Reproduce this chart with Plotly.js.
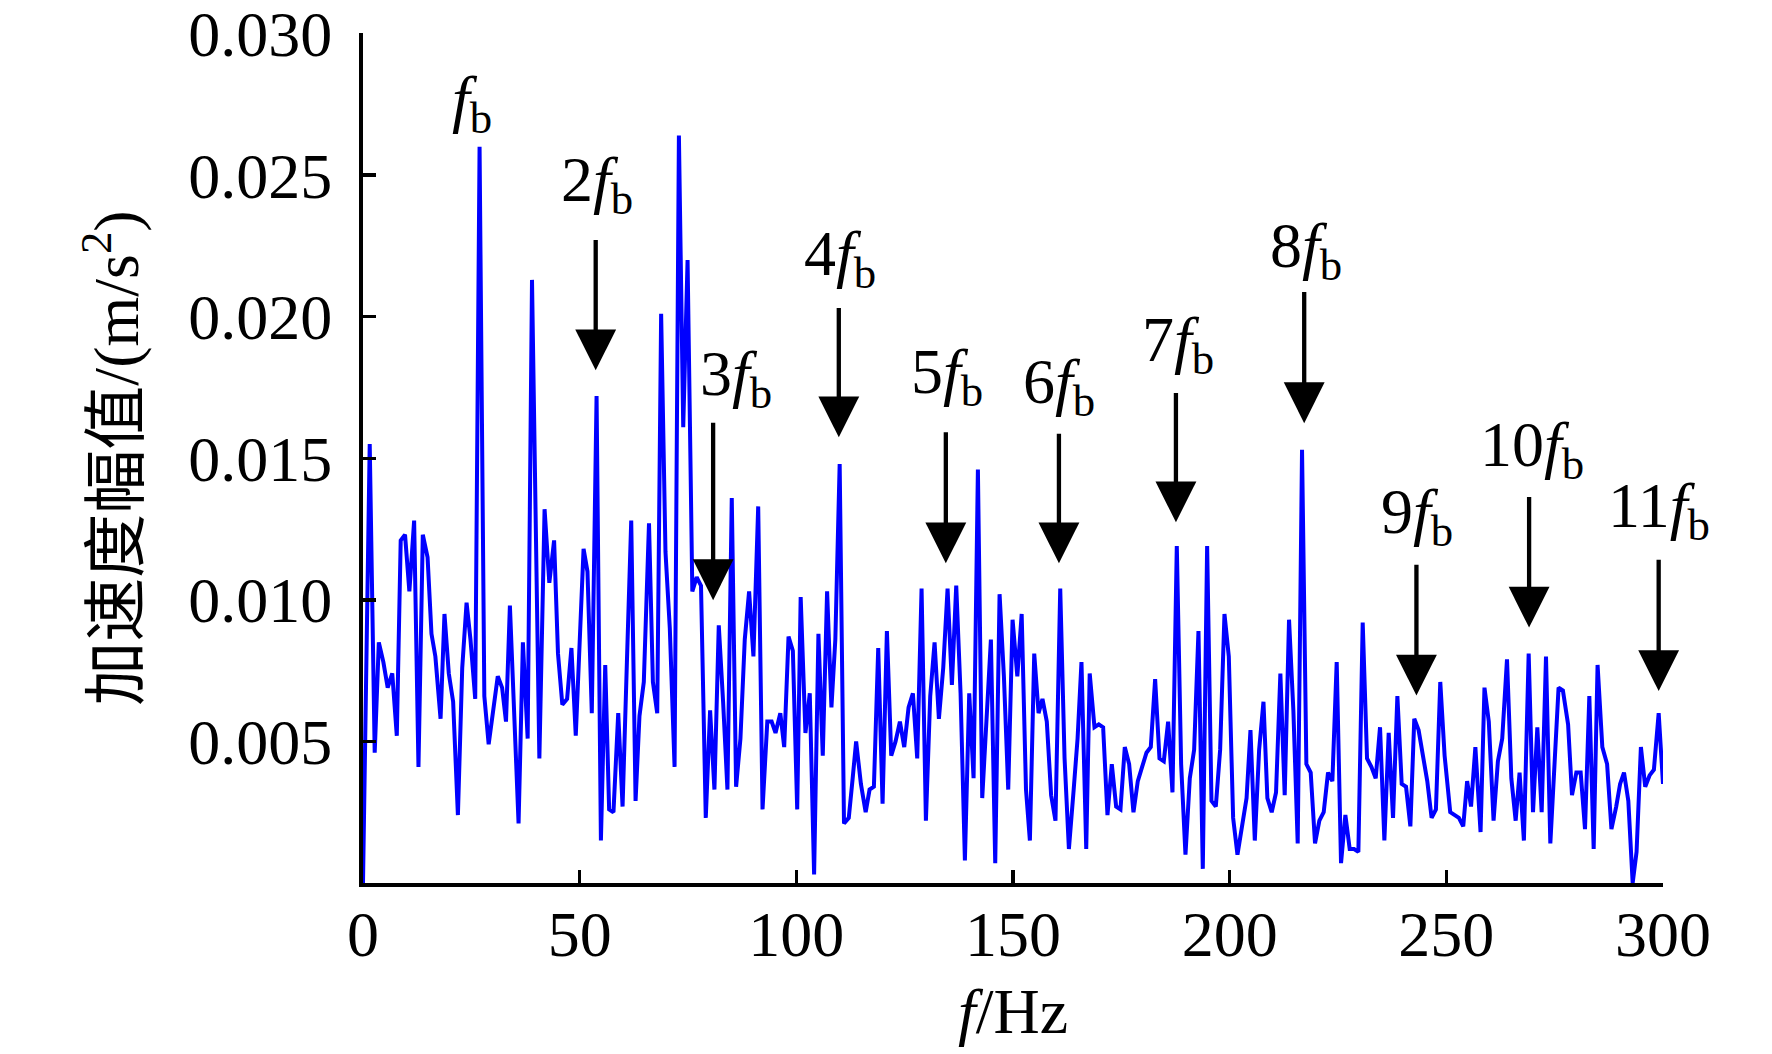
<!DOCTYPE html>
<html>
<head>
<meta charset="utf-8">
<script src="https://cdn.plot.ly/plotly-3.0.1.min.js"></script>
<style>html,body{margin:0;padding:0;background:#fff;}#chart{width:1772px;height:1054px;}</style>
</head>
<body>
<div id="chart"></div>
<script>
// Frequency (Hz) of each spectrum point
var freqHz = [
 0, 1.55, 2.7, 3.65, 4.7, 5.7, 6.75, 7.8, 8.7, 9.7,
 10.7, 11.8, 12.8, 13.8, 14.9, 15.8, 16.7, 17.9, 18.8, 19.8,
 20.8, 21.9, 22.9, 23.9, 24.8, 25.9, 26.9, 28.0, 29.0, 30.0,
 31.1, 32.1, 33.0, 33.9, 34.9, 35.9, 36.9, 38.0, 39.0, 40.7,
 41.9, 43.0, 44.1, 45.0, 46.0, 47.1, 48.1, 49.1, 50.9, 51.8,
 52.8, 53.9, 54.9, 55.9, 56.8, 57.8, 58.9, 59.9, 60.9, 61.9,
 62.9, 63.8, 64.8, 66.0, 66.9, 67.9, 68.8, 69.8, 70.8, 71.9,
 72.9, 73.9, 74.9, 76.0, 77.0, 78.0, 79.1, 80.1, 81.1, 82.1,
 83.1, 84.1, 85.1, 86.1, 87.1, 88.1, 89.1, 90.1, 91.2, 92.2,
 93.3, 94.3, 95.2, 96.3, 97.2, 98.2, 99.2, 100.2, 101.0, 102.1,
 103.1, 104.1, 105.1, 106.1, 107.1, 108.1, 109.0, 110.0, 111.0, 112.1,
 113.0, 113.8, 114.9, 116.0, 116.9, 117.9, 118.9, 119.9, 120.9, 121.9,
 122.9, 123.9, 124.9, 125.9, 126.9, 127.9, 128.9, 129.9, 130.9, 131.9,
 132.9, 133.9, 134.9, 135.9, 136.9, 137.9, 138.9, 139.9, 140.9, 141.9,
 142.9, 143.9, 144.9, 145.9, 146.9, 147.9, 148.9, 149.9, 151.0, 152.0,
 153.0, 153.9, 154.9, 155.9, 156.8, 157.8, 158.8, 159.8, 160.9, 161.9,
 162.9, 164.0, 164.9, 165.8, 166.9, 167.7, 168.8, 169.8, 170.8, 171.8,
 172.8, 173.8, 174.8, 175.8, 176.8, 177.8, 178.8, 179.8, 180.8, 181.8,
 182.8, 183.8, 184.8, 185.8, 186.8, 187.8, 188.8, 189.8, 190.8, 191.8,
 192.8, 193.8, 194.8, 195.8, 196.8, 197.8, 198.8, 199.8, 200.8, 201.8,
 202.9, 203.9, 204.8, 205.8, 206.8, 207.8, 208.7, 209.7, 210.7, 211.7,
 212.7, 213.7, 214.7, 215.7, 216.7, 217.7, 218.7, 219.7, 220.7, 221.7,
 222.7, 223.7, 224.7, 225.7, 226.7, 227.7, 228.7, 229.7, 230.7, 231.7,
 232.7, 233.7, 234.7, 235.7, 236.7, 237.7, 238.7, 239.7, 240.7, 241.7,
 242.6, 243.6, 244.6, 245.6, 246.6, 247.6, 248.6, 249.6, 250.9, 251.9,
 252.9, 253.9, 254.8, 255.7, 256.7, 257.9, 258.8, 259.8, 260.9, 261.9,
 262.9, 264.0, 265.0, 266.0, 266.9, 267.9, 269.0, 270.0, 271.0, 272.0,
 273.0, 274.0, 275.0, 275.9, 276.9, 278.1, 279.0, 280.0, 281.0, 282.0,
 283.0, 284.0, 284.9, 286.0, 287.1, 288.1, 289.2, 290.1, 291.0, 292.0,
 293.0, 293.9, 294.9, 295.9, 296.9, 297.9, 299.0, 300.0
];
// Acceleration amplitude (m/s^2) of each point
var amplitude = [
 0, 0.0155, 0.0046, 0.0085, 0.0078, 0.0069, 0.0074, 0.0052, 0.0121, 0.0123,
 0.0103, 0.0128, 0.0041, 0.0123, 0.0115, 0.0088, 0.0080, 0.0058, 0.0095, 0.0074,
 0.0064, 0.0024, 0.0076, 0.0099, 0.0086, 0.0065, 0.0260, 0.0066, 0.0049, 0.0061,
 0.0073, 0.0069, 0.0057, 0.0098, 0.0058, 0.0021, 0.0085, 0.0051, 0.0213, 0.0044,
 0.0132, 0.0106, 0.0121, 0.0081, 0.0063, 0.0065, 0.0083, 0.0052, 0.0118, 0.0110,
 0.0060, 0.0172, 0.0015, 0.0077, 0.0026, 0.0025, 0.0060, 0.0027, 0.0078, 0.0128,
 0.0029, 0.0059, 0.0071, 0.0127, 0.0071, 0.0060, 0.0201, 0.0117, 0.0090, 0.0041,
 0.0264, 0.0161, 0.0220, 0.0103, 0.0108, 0.0105, 0.0023, 0.0061, 0.0033, 0.0091,
 0.0064, 0.0033, 0.0136, 0.0034, 0.0051, 0.0086, 0.0103, 0.0080, 0.0133, 0.0026,
 0.0057, 0.0057, 0.0053, 0.0060, 0.0048, 0.0087, 0.0082, 0.0026, 0.0101, 0.0053,
 0.0067, 0.0003, 0.0088, 0.0045, 0.0103, 0.0062, 0.0086, 0.0148, 0.0021, 0.0023,
 0.0037, 0.0050, 0.0035, 0.0025, 0.0033, 0.0034, 0.0083, 0.0028, 0.0089, 0.0045,
 0.0050, 0.0057, 0.0048, 0.0062, 0.0067, 0.0044, 0.0104, 0.0022, 0.0066, 0.0085,
 0.0058, 0.0076, 0.0104, 0.0070, 0.0105, 0.0067, 0.0008, 0.0067, 0.0037, 0.0146,
 0.0030, 0.0057, 0.0086, 0.0007, 0.0102, 0.0073, 0.0033, 0.0093, 0.0073, 0.0095,
 0.0033, 0.0015, 0.0081, 0.0060, 0.0065, 0.0057, 0.0031, 0.0022, 0.0104, 0.0044,
 0.0012, 0.0033, 0.0051, 0.0078, 0.0012, 0.0074, 0.0055, 0.0056, 0.0055, 0.0024,
 0.0042, 0.0027, 0.0026, 0.0048, 0.0042, 0.0025, 0.0036, 0.0041, 0.0046, 0.0048,
 0.0072, 0.0044, 0.0043, 0.0057, 0.0032, 0.0119, 0.0042, 0.0010, 0.0037, 0.0047,
 0.0089, 0.0005, 0.0119, 0.0029, 0.0027, 0.0047, 0.0095, 0.0080, 0.0023, 0.0010,
 0.0020, 0.0030, 0.0054, 0.0015, 0.0047, 0.0064, 0.0030, 0.0025, 0.0032, 0.0074,
 0.0031, 0.0093, 0.0061, 0.0014, 0.0153, 0.0042, 0.0039, 0.0014, 0.0022, 0.0025,
 0.0039, 0.0036, 0.0078, 0.0007, 0.0024, 0.0012, 0.0012, 0.0011, 0.0092, 0.0044,
 0.0041, 0.0037, 0.0055, 0.0015, 0.0053, 0.0023, 0.0066, 0.0035, 0.0034, 0.0020,
 0.0058, 0.0054, 0.0045, 0.0036, 0.0023, 0.0026, 0.0071, 0.0045, 0.0025, 0.0024,
 0.0023, 0.0020, 0.0036, 0.0027, 0.0048, 0.0018, 0.0069, 0.0057, 0.0022, 0.0043,
 0.0051, 0.0079, 0.0037, 0.0022, 0.0039, 0.0015, 0.0081, 0.0025, 0.0055, 0.0025,
 0.0080, 0.0014, 0.0042, 0.0069, 0.0068, 0.0056, 0.0031, 0.0039, 0.0039, 0.0019,
 0.0066, 0.0012, 0.0077, 0.0048, 0.0042, 0.0019, 0.0027, 0.0035, 0.0039, 0.0029,
 0.0000, 0.0011, 0.0048, 0.0034, 0.0038, 0.0040, 0.0060, 0.0035
];

// Axis ticks
var xTickVals = [0, 50, 100, 150, 200, 250, 300];
var xTickText = ['0', '50', '100', '150', '200', '250', '300'];
var yTickVals = [0.005, 0.010, 0.015, 0.020, 0.025, 0.030];
var yTickText = ['0.005', '0.010', '0.015', '0.020', '0.025', '0.030'];

// Harmonic markers: label, arrow frequency, arrow tail / tip amplitude, label position
var harmLabels = ['<i>f</i><sub>b</sub>', '2<i>f</i><sub>b</sub>', '3<i>f</i><sub>b</sub>', '4<i>f</i><sub>b</sub>',
  '5<i>f</i><sub>b</sub>', '6<i>f</i><sub>b</sub>', '7<i>f</i><sub>b</sub>', '8<i>f</i><sub>b</sub>',
  '9<i>f</i><sub>b</sub>', '10<i>f</i><sub>b</sub>', '11<i>f</i><sub>b</sub>'];
var hasArrow   = [false, true, true, true, true, true, true, true, true, true, true];
var arrowFreq  = [26.9, 53.7, 80.8, 109.8, 134.5, 160.6, 187.6, 217.2, 243.1, 269.1, 299.0];
var arrowTop   = [0, 0.02276, 0.01631, 0.02036, 0.01597, 0.01592, 0.01736, 0.02093, 0.01129, 0.01369, 0.01147];
var arrowTip   = [0, 0.01811, 0.00999, 0.01574, 0.01129, 0.01129, 0.01274, 0.01624, 0.00662, 0.00902, 0.00678];
var labelFreq  = [25.2, 54.0, 86.1, 110.1, 134.7, 160.6, 188.1, 217.6, 243.2, 269.7, 299.1];
var labelAmp   = [0.02756, 0.02467, 0.01782, 0.02209, 0.01789, 0.01757, 0.01902, 0.02234, 0.01295, 0.01532, 0.01316];

var serif = '"Liberation Serif", "Times New Roman", Times, serif';
var titleFont = '"Liberation Serif", "Times New Roman", "Noto Sans CJK SC", serif';

var annotations = [];
for (var i = 0; i < harmLabels.length; i++) {
  if (hasArrow[i]) {
    annotations.push({
      x: arrowFreq[i], y: arrowTip[i], xref: 'x', yref: 'y',
      ax: arrowFreq[i], ay: arrowTop[i], axref: 'x', ayref: 'y',
      text: '', showarrow: true, arrowhead: 2, arrowsize: 1.9, arrowwidth: 4.3,
      arrowcolor: '#000000', standoff: 0
    });
  }
  annotations.push({
    x: labelFreq[i], y: labelAmp[i], xref: 'x', yref: 'y',
    text: harmLabels[i], showarrow: false, xanchor: 'center', yanchor: 'middle',
    font: {family: serif, size: 64, color: '#000000'}
  });
}

var trace = {
  x: freqHz, y: amplitude, type: 'scatter', mode: 'lines',
  line: {color: '#0000ff', width: 4},
  hoverinfo: 'skip'
};

var layout = {
  width: 1772, height: 1054,
  margin: {l: 363, r: 109, t: 33, b: 171, pad: 0},
  paper_bgcolor: '#ffffff', plot_bgcolor: '#ffffff',
  showlegend: false,
  font: {family: serif, color: '#000000'},
  xaxis: {
    range: [0, 300], tickmode: 'array', tickvals: xTickVals, ticktext: xTickText,
    ticks: 'inside', ticklen: 13, tickwidth: 3.5, tickcolor: '#000',
    showline: true, linewidth: 4, linecolor: '#000', mirror: false,
    showgrid: false, zeroline: false,
    tickfont: {family: serif, size: 64, color: '#000'},
    ticklabelstandoff: -8, ticklabeloverflow: 'allow',
    title: {text: '<i>f</i>/Hz', font: {family: serif, size: 64, color: '#000'}, standoff: 20}
  },
  yaxis: {
    range: [0, 0.03002], tickmode: 'array', tickvals: yTickVals, ticktext: yTickText,
    ticks: 'inside', ticklen: 13, tickwidth: 3.5, tickcolor: '#000',
    showline: true, linewidth: 4, linecolor: '#000', mirror: false,
    showgrid: false, zeroline: false,
    tickfont: {family: serif, size: 64, color: '#000'},
    ticklabelstandoff: 14, ticklabeloverflow: 'allow',
    title: {text: '加速度幅值/(m/s<sup>2</sup>)', font: {family: titleFont, size: 64, color: '#000'}, standoff: 30}
  },
  annotations: annotations
};

Plotly.newPlot('chart', [trace], layout, {staticPlot: true, displayModeBar: false});
</script>
</body>
</html>
